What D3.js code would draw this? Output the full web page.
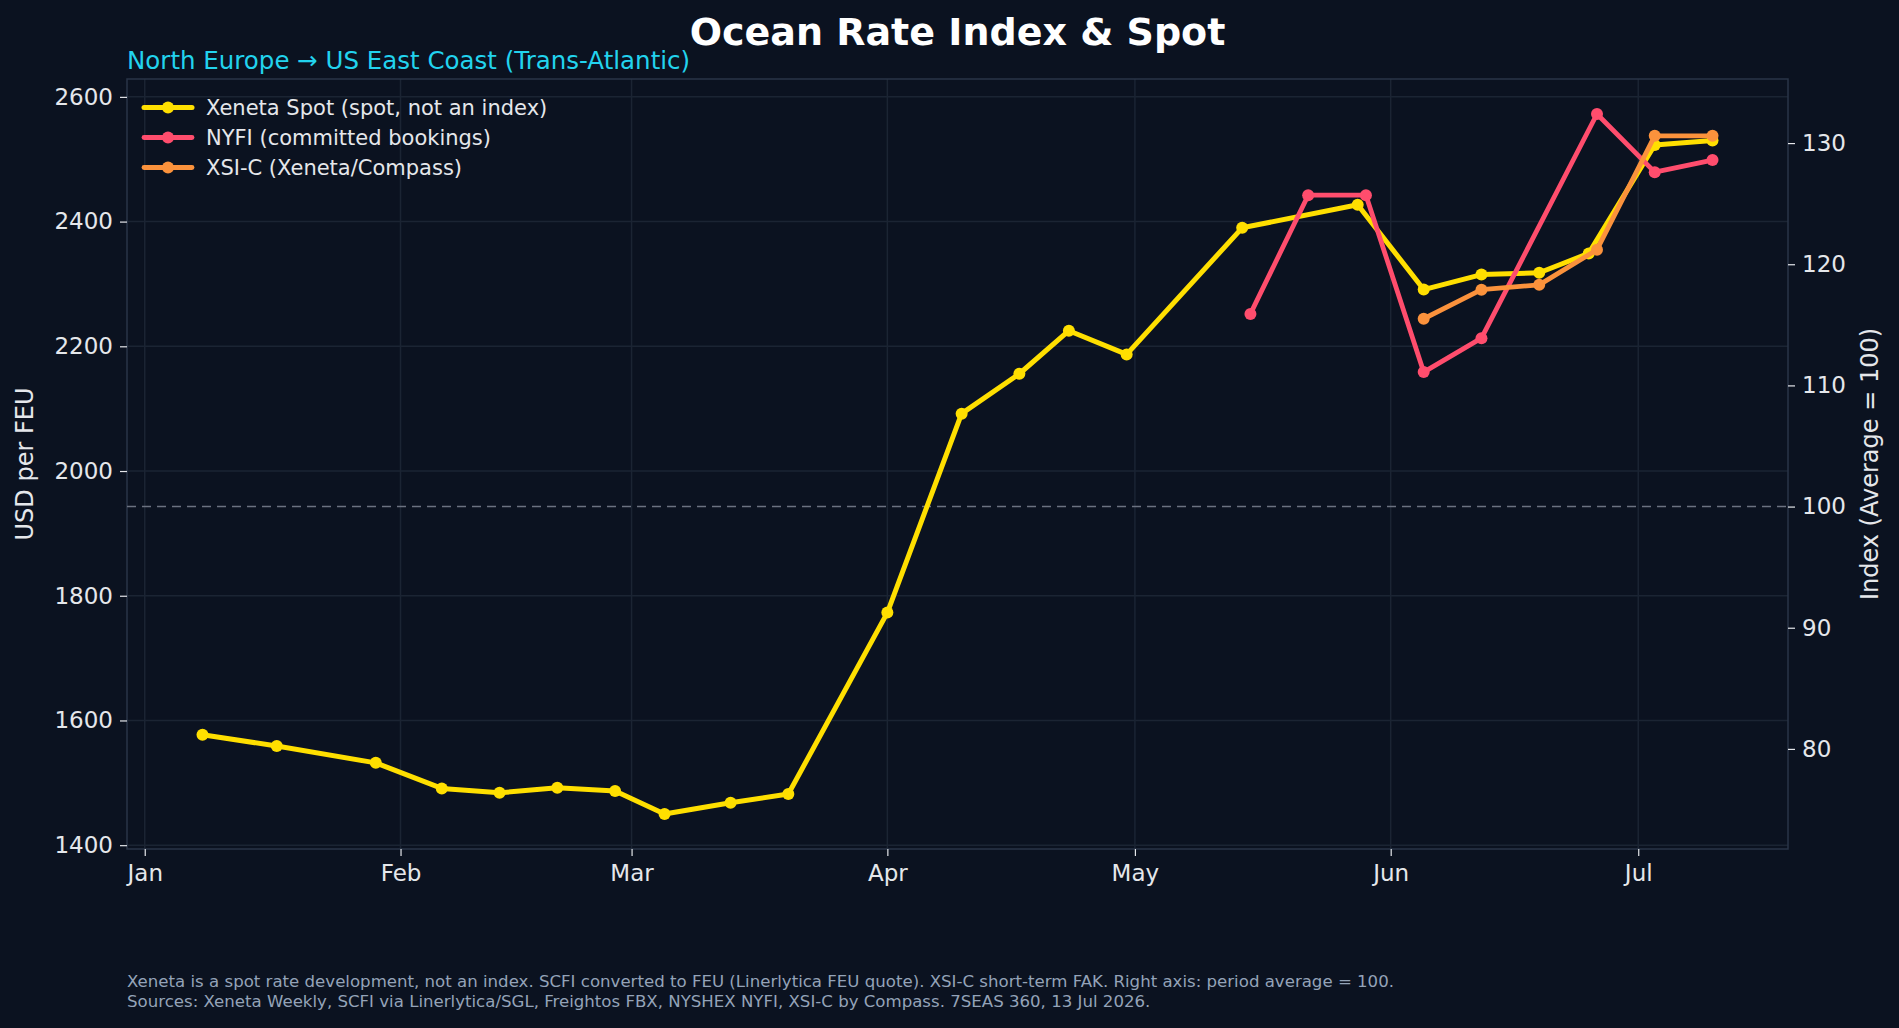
<!DOCTYPE html>
<html><head><meta charset="utf-8">
<script src="https://cdn.jsdelivr.net/npm/d3@7"></script>
<style>html,body{margin:0;padding:0;background:#0b1220;} svg{display:block;}</style>
</head><body><svg id="chart" width="1899" height="1028"></svg>
<script>
// ---------------- data ----------------
const xenetaDates = ["2026-01-08","2026-01-17","2026-01-29","2026-02-06","2026-02-13","2026-02-20","2026-02-27",
  "2026-03-05","2026-03-13","2026-03-20","2026-04-01","2026-04-10","2026-04-17","2026-04-23","2026-04-30",
  "2026-05-14","2026-05-28","2026-06-05","2026-06-12","2026-06-19","2026-06-25","2026-07-03","2026-07-10"];
const xenetaSpot = [1577,1559,1532,1491,1484,1492,1487,1450,1468,1482,1773,2092,2156,2225,2187,
  2390,2427,2291,2315,2318,2349,2523,2530];
const nyfiDates = ["2026-05-15","2026-05-22","2026-05-29","2026-06-05","2026-06-12","2026-06-26","2026-07-03","2026-07-10"];
const nyfiIndex = [115.9,125.7,125.7,111.1,113.9,132.4,127.6,128.6];
const xsiDates = ["2026-06-05","2026-06-12","2026-06-19","2026-06-26","2026-07-03","2026-07-10"];
const xsiIndex = [115.5,117.9,118.3,121.2,130.6,130.6];
const spotAverage = 1943; // USD per FEU that equals index 100
const monthTickDates = ["2026-01-01","2026-02-01","2026-03-01","2026-04-01","2026-05-01","2026-06-01","2026-07-01"];
const monthTickLabels = ["Jan","Feb","Mar","Apr","May","Jun","Jul"];
const leftTicks = [1400,1600,1800,2000,2200,2400,2600];
const rightTicks = [80,90,100,110,120,130];
const seriesNames = ["Xeneta Spot (spot, not an index)","NYFI (committed bookings)","XSI-C (Xeneta/Compass)"];
const titleText = "Ocean Rate Index & Spot";
const subtitleText = "North Europe \u2192 US East Coast (Trans-Atlantic)";
const footLines = ["Xeneta is a spot rate development, not an index. SCFI converted to FEU (Linerlytica FEU quote). XSI-C short-term FAK. Right axis: period average = 100.",
  "Sources: Xeneta Weekly, SCFI via Linerlytica/SGL, Freightos FBX, NYSHEX NYFI, XSI-C by Compass. 7SEAS 360, 13 Jul 2026."];

// ---------------- styles ----------------
const C = {bg:"#0b1220", grid:"#1b2433", spine:"#2a3547", text:"#e5e7eb", sub:"#22d3ee", foot:"#94a3b8",
  yellow:"#ffdf00", red:"#ff4d6d", orange:"#fb923c", dash:"#6b7280"};
const FONT = "DejaVu Sans, sans-serif";
const m = {l:127, t:79, r:1788, b:849};

const svg = d3.select("#chart");
svg.append("rect").attr("width",1899).attr("height",1028).attr("fill",C.bg);

const parse = d3.utcParse("%Y-%m-%d");
const allDates = [...xenetaDates,...nyfiDates,...xsiDates].map(parse);
const [d0,d1] = d3.extent(allDates);
const dp = (d1-d0)*0.05;
const x = d3.scaleUtc().domain([new Date(+d0-dp), new Date(+d1+dp)]).range([m.l,m.r]);

const idxAll = [...xenetaSpot.map(v=>v/spotAverage*100), ...nyfiIndex, ...xsiIndex];
const [i0,i1] = d3.extent(idxAll);
const ip = (i1-i0)*0.05;
const yR = d3.scaleLinear().domain([i0-ip, i1+ip]).range([m.b,m.t]);
const yL = d3.scaleLinear().domain(yR.domain().map(v=>v*spotAverage/100)).range([m.b,m.t]);

// grid
const g = svg.append("g");
g.selectAll(".hg").data(leftTicks).join("line")
  .attr("x1",m.l).attr("x2",m.r).attr("y1",d=>yL(d)).attr("y2",d=>yL(d))
  .attr("stroke",C.grid).attr("stroke-width",1.5);
g.selectAll(".vg").data(monthTickDates).join("line")
  .attr("x1",d=>x(parse(d))).attr("x2",d=>x(parse(d))).attr("y1",m.t).attr("y2",m.b)
  .attr("stroke",C.grid).attr("stroke-width",1.5);

// spines
svg.append("rect").attr("x",m.l).attr("y",m.t).attr("width",m.r-m.l).attr("height",m.b-m.t)
  .attr("fill","none").attr("stroke",C.spine).attr("stroke-width",1.5);

// dashed index 100
svg.append("line").attr("x1",m.l).attr("x2",m.r).attr("y1",yR(100)).attr("y2",yR(100))
  .attr("stroke",C.dash).attr("stroke-width",1.5).attr("stroke-dasharray","9,6");

// axes
function styleAxis(sel){
  sel.select(".domain").remove();
  sel.selectAll(".tick line").attr("stroke",C.text).attr("stroke-width",1.2);
  sel.selectAll(".tick text").attr("fill",C.text).attr("font-family",FONT).attr("font-size",23);
}
svg.append("g").attr("transform",`translate(${m.l},0)`)
  .call(d3.axisLeft(yL).tickValues(leftTicks).tickSize(7).tickPadding(7).tickFormat(d3.format("d")))
  .call(styleAxis);
svg.append("g").attr("transform",`translate(${m.r},0)`)
  .call(d3.axisRight(yR).tickValues(rightTicks).tickSize(7).tickPadding(7).tickFormat(d3.format("d")))
  .call(styleAxis);
svg.append("g").attr("transform",`translate(0,${m.b})`)
  .call(d3.axisBottom(x).tickValues(monthTickDates.map(parse)).tickSize(7).tickPadding(9)
    .tickFormat((d,i)=>monthTickLabels[i]))
  .call(styleAxis);

// series
const series = [
  {dates:xenetaDates, vals:xenetaSpot, y:yL, color:C.yellow, w:5},
  {dates:nyfiDates, vals:nyfiIndex, y:yR, color:C.red, w:4.8},
  {dates:xsiDates, vals:xsiIndex, y:yR, color:C.orange, w:4.8}
];
const R = 6;
series.forEach(s=>{
  const pts = s.dates.map((d,i)=>[x(parse(d)), s.y(s.vals[i])]);
  svg.append("path").attr("d", d3.line()(pts)).attr("fill","none")
    .attr("stroke",s.color).attr("stroke-width",s.w).attr("stroke-linejoin","round").attr("stroke-linecap","round");
  svg.append("g").selectAll("circle").data(pts).join("circle")
    .attr("cx",p=>p[0]).attr("cy",p=>p[1]).attr("r",R).attr("fill",s.color);
});

// legend
const lg = svg.append("g").attr("transform","translate(144,107.5)");
series.forEach((s,i)=>{
  const row = lg.append("g").attr("transform",`translate(0,${i*30})`);
  row.append("line").attr("x1",0).attr("x2",48).attr("stroke",s.color).attr("stroke-width",s.w).attr("stroke-linecap","round");
  row.append("circle").attr("cx",24).attr("r",R).attr("fill",s.color);
  row.append("text").attr("x",62).attr("dy","0.36em").attr("fill",C.text)
    .attr("font-family",FONT).attr("font-size",21).text(seriesNames[i]);
});

// titles
svg.append("text").attr("x",(m.l+m.r)/2).attr("y",45).attr("text-anchor","middle")
  .attr("fill","#ffffff").attr("font-family",FONT).attr("font-weight","bold").attr("font-size",38).text(titleText);
svg.append("text").attr("x",m.l).attr("y",69).attr("fill",C.sub)
  .attr("font-family",FONT).attr("font-size",24.5).text(subtitleText);

// axis labels
svg.append("text").attr("transform",`translate(33,${(m.t+m.b)/2}) rotate(-90)`).attr("text-anchor","middle")
  .attr("fill",C.text).attr("font-family",FONT).attr("font-size",24).text("USD per FEU");
svg.append("text").attr("transform",`translate(1878,${(m.t+m.b)/2}) rotate(-90)`).attr("text-anchor","middle")
  .attr("fill",C.text).attr("font-family",FONT).attr("font-size",24).text("Index (Average = 100)");

// footnote
footLines.forEach((t,i)=>{
  svg.append("text").attr("x",m.l).attr("y",987+i*20).attr("fill",C.foot)
    .attr("font-family",FONT).attr("font-size",16.6).text(t);
});
</script></body></html>
